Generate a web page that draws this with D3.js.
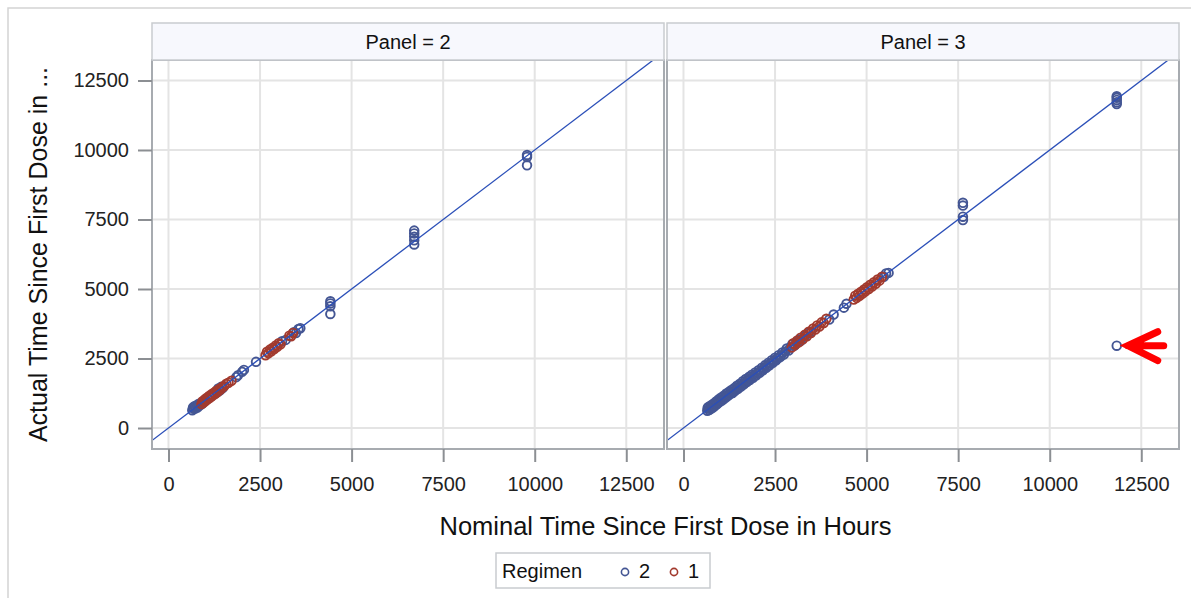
<!DOCTYPE html>
<html>
<head>
<meta charset="utf-8">
<script src="https://cdn.jsdelivr.net/npm/d3@7"></script>
<style>
  body { margin: 0; background: #fff; }
  svg { display: block; font-family: "Liberation Sans", Arial, sans-serif; }
</style>
</head>
<body>
<svg id="chart" width="1191" height="598"></svg>
<script>
// Axis ticks and panel labels
const xTicks = [0, 2500, 5000, 7500, 10000, 12500];
const yTicks = [0, 2500, 5000, 7500, 10000, 12500];
const panelNames = ["Panel = 2", "Panel = 3"];
const regimenNames = ["2", "1"];

// [nominal hours, actual hours] — Panel 2, Regimen 2
const panel2Regimen2 = [
  [650,640],[670,740],[690,690],[710,780],[730,700],[750,760],[770,820],[790,740],
  [810,800],[830,870],[860,820],[890,900],[920,870],[960,950],
  [1320,1280],[1360,1420],[1400,1350],[1440,1480],[1480,1440],
  [1850,1830],[1900,1900],[2010,2020],[2060,2090],[2390,2380],
  [3100,3120],[3200,3170],[3420,3440],[3480,3420],[3550,3560],[3600,3590],
  [4420,4100],[4420,4380],[4420,4480],[4420,4560],
  [6710,6600],[6710,6750],[6710,6880],[6710,7000],[6710,7100],
  [9790,9450],[9790,9750],[9790,9820]
];
// Panel 2, Regimen 1
const panel2Regimen1 = [
  [900,860],[930,960],[960,920],[990,1030],[1020,980],[1050,1090],[1080,1040],[1110,1150],
  [1140,1100],[1170,1210],[1200,1160],[1240,1270],[1270,1220],[1300,1330],[1340,1290],
  [1380,1400],[1420,1380],[1470,1480],[1520,1500],[1580,1590],[1640,1630],[1720,1700],
  [2650,2620],[2690,2740],[2730,2690],[2770,2820],[2810,2760],[2850,2890],[2890,2840],
  [2930,2970],[2970,2920],[3010,3050],[3060,3010],[3300,3320],[3350,3300],[3400,3420]
];
// Panel 3, Regimen 2
const panel3Regimen2 = [
  [650,620],[660,720],[680,760],[700,650],[715,700],[735,800],[750,690],[770,760],
  [790,850],[805,740],[825,790],[845,900],[860,800],[880,850],[900,960],[920,860],
  [940,920],[960,1030],[985,930],[1005,990],[1030,1100],[1050,990],[1075,1050],[1100,1160],
  [1120,1060],[1145,1120],[1170,1240],[1190,1130],[1215,1190],[1240,1300],[1260,1200],
  [1290,1270],[1310,1370],[1340,1260],[1360,1330],[1390,1440],[1410,1340],[1440,1400],
  [1460,1520],[1490,1410],[1520,1480],[1540,1590],[1570,1490],[1600,1560],[1620,1680],
  [1650,1570],[1680,1640],[1700,1760],[1730,1650],[1760,1720],[1790,1840],[1810,1730],
  [1840,1800],[1870,1920],[1900,1810],[1930,1880],[1960,2000],[1990,1900],[2020,1970],
  [2050,2080],[2080,1990],[2110,2060],[2140,2170],[2170,2080],[2200,2150],[2230,2260],
  [2260,2170],[2290,2240],[2320,2350],[2350,2260],[2380,2330],[2410,2440],[2440,2350],
  [2470,2420],[2500,2530],[2530,2440],[2560,2510],[2600,2620],[2630,2540],[2660,2600],
  [2700,2720],[2740,2640],[2780,2750],[2820,2860],[2870,2790],[2920,2900],[2970,3010],
  [3030,2970],[3090,3060],[3150,3180],[3200,3140],[3320,3300],[3400,3420],[3480,3460],
  [3980,3900],[4100,4080],[4380,4330],[4450,4470],
  [5470,5440],[5530,5560],[5600,5580],
  [7630,7480],[7630,7600],[7630,8000],[7630,8100],
  [11830,11650],[11830,11720],[11830,11800],[11830,11880],[11830,11930],
  [11830,2960]
];
// Panel 3, Regimen 1
const panel3Regimen1 = [
  [2960,2900],[3000,3050],[3050,2990],[3100,3140],[3150,3080],[3200,3250],[3260,3190],
  [3310,3350],[3370,3300],[3420,3460],[3480,3420],[3540,3580],[3600,3540],[3650,3690],
  [3710,3650],[3770,3800],[3830,3780],[3900,3930],
  [4650,4620],[4690,4760],[4730,4680],[4770,4830],[4810,4760],[4850,4900],[4890,4840],
  [4930,4980],[4970,4920],[5010,5060],[5060,5000],[5100,5150],[5150,5090],[5200,5240],
  [5250,5190],[5300,5340],[5350,5300],[5420,5440]
];
// Flagged observation (nominal, actual)
const flagged = [11830, 2960];

const xDomain = [-450, 13530];
const yDomain = [-755, 13237];

const colors = { "2": "#445694", "1": "#A23A2E" };
const lineColor = "#2B4FB8";
const gridColor = "#e4e4e4";
const borderColor = "#a7abb0";

const svg = d3.select("#chart");

// outer frame
svg.append("rect").attr("x", 8).attr("y", 8).attr("width", 1200).attr("height", 620)
  .attr("fill", "none").attr("stroke", "#d4d4d4").attr("stroke-width", 1.5);

const plotTop = 60, plotBottom = 449, panelW = 512;
const panelLefts = [152, 667];
const headerTop = 23;

const y = d3.scaleLinear().domain(yDomain).range([plotBottom, plotTop]);

const panelData = [
  { name: panelNames[0], series: { "2": panel2Regimen2, "1": panel2Regimen1 } },
  { name: panelNames[1], series: { "2": panel3Regimen2, "1": panel3Regimen1 } }
];

const defs = svg.append("defs");

panelData.forEach((p, i) => {
  const left = panelLefts[i];
  const x = d3.scaleLinear().domain(xDomain).range([left, left + panelW]);
  p.x = x;
  const g = svg.append("g");

  // grid
  g.selectAll(".gx").data(xTicks).join("line")
    .attr("x1", d => x(d)).attr("x2", d => x(d))
    .attr("y1", plotTop).attr("y2", plotBottom)
    .attr("stroke", gridColor).attr("stroke-width", 2);
  g.selectAll(".gy").data(yTicks).join("line")
    .attr("x1", left).attr("x2", left + panelW)
    .attr("y1", d => y(d)).attr("y2", d => y(d))
    .attr("stroke", gridColor).attr("stroke-width", 2);

  const clipId = "clip" + i;
  defs.append("clipPath").attr("id", clipId).append("rect")
    .attr("x", left).attr("y", plotTop).attr("width", panelW).attr("height", plotBottom - plotTop);
  const inner = g.append("g").attr("clip-path", `url(#${clipId})`);

  // markers, regimen 2 first then regimen 1 on top
  regimenNames.forEach(r => {
    inner.append("g").selectAll("circle").data(p.series[r]).join("circle")
      .attr("cx", d => x(d[0])).attr("cy", d => y(d[1])).attr("r", 4.3)
      .attr("fill", "none").attr("stroke", colors[r]).attr("stroke-width", 1.9);
  });

  // identity line
  const lo = Math.min(xDomain[0], yDomain[0]), hi = Math.max(xDomain[1], yDomain[1]);
  inner.append("line")
    .attr("x1", x(lo)).attr("y1", y(lo)).attr("x2", x(hi)).attr("y2", y(hi))
    .attr("stroke", lineColor).attr("stroke-width", 1.3);

  // plot border
  g.append("rect").attr("x", left).attr("y", plotTop).attr("width", panelW)
    .attr("height", plotBottom - plotTop).attr("fill", "none")
    .attr("stroke", borderColor).attr("stroke-width", 2);

  // header
  g.append("rect").attr("x", left).attr("y", headerTop).attr("width", panelW)
    .attr("height", plotTop - headerTop).attr("fill", "#f7f8fd")
    .attr("stroke", "#c9cccf").attr("stroke-width", 1.5);
  g.append("text").attr("x", left + panelW / 2).attr("y", (headerTop + plotTop) / 2 + 7)
    .attr("text-anchor", "middle").attr("font-size", 20).attr("fill", "#111").text(p.name);

  // bottom axis
  const ax = g.append("g").attr("transform", `translate(0,${plotBottom})`)
    .call(d3.axisBottom(x).tickValues(xTicks).tickFormat(d3.format("d")).tickSize(13).tickPadding(15));
  ax.select(".domain").remove();
  ax.selectAll(".tick line").attr("stroke", "#8c8f93").attr("stroke-width", 2);
  ax.selectAll(".tick text").attr("font-size", 20).attr("fill", "#222")
    .attr("font-family", "'Liberation Sans', Arial, sans-serif");

  if (i === 0) {
    const ay = g.append("g").attr("transform", `translate(${left},0)`)
      .call(d3.axisLeft(y).tickValues(yTicks).tickFormat(d3.format("d")).tickSize(14).tickPadding(9));
    ay.select(".domain").remove();
    ay.selectAll(".tick line").attr("stroke", "#8c8f93").attr("stroke-width", 2);
    ay.selectAll(".tick text").attr("font-size", 20).attr("fill", "#222")
      .attr("font-family", "'Liberation Sans', Arial, sans-serif");
  }
});

// axis titles
svg.append("text").attr("x", (panelLefts[0] + panelLefts[1] + panelW) / 2).attr("y", 535)
  .attr("text-anchor", "middle").attr("font-size", 25.5).attr("fill", "#111")
  .text("Nominal Time Since First Dose in Hours");
svg.append("text")
  .attr("transform", `translate(47,${(plotTop + plotBottom) / 2}) rotate(-90)`)
  .attr("text-anchor", "middle").attr("font-size", 25).attr("fill", "#111")
  .text("Actual Time Since First Dose in ...");

// legend
const lg = svg.append("g");
lg.append("rect").attr("x", 496).attr("y", 553).attr("width", 214).attr("height", 35)
  .attr("fill", "#fff").attr("stroke", "#c9cccf").attr("stroke-width", 1.5);
lg.append("text").attr("x", 502).attr("y", 578).attr("font-size", 20).attr("fill", "#111").text("Regimen");
const legendItems = [{ r: regimenNames[0], cx: 625 }, { r: regimenNames[1], cx: 674 }];
legendItems.forEach(it => {
  lg.append("circle").attr("cx", it.cx).attr("cy", 572).attr("r", 3.6)
    .attr("fill", "none").attr("stroke", colors[it.r]).attr("stroke-width", 1.6);
  lg.append("text").attr("x", it.cx + 14).attr("y", 578).attr("font-size", 20).attr("fill", "#111").text(it.r);
});

// arrow pointing at the flagged observation
const px = panelData[1].x(flagged[0]) + 11, py = y(flagged[1]);
svg.append("path")
  .attr("d", `M${px + 30},${py - 14} L${px},${py} L${px + 30},${py + 15} M${px},${py} L${px + 36},${py}`)
  .attr("fill", "none").attr("stroke", "#ff0000").attr("stroke-width", 7)
  .attr("stroke-linecap", "round").attr("stroke-linejoin", "miter");
</script>
</body>
</html>
